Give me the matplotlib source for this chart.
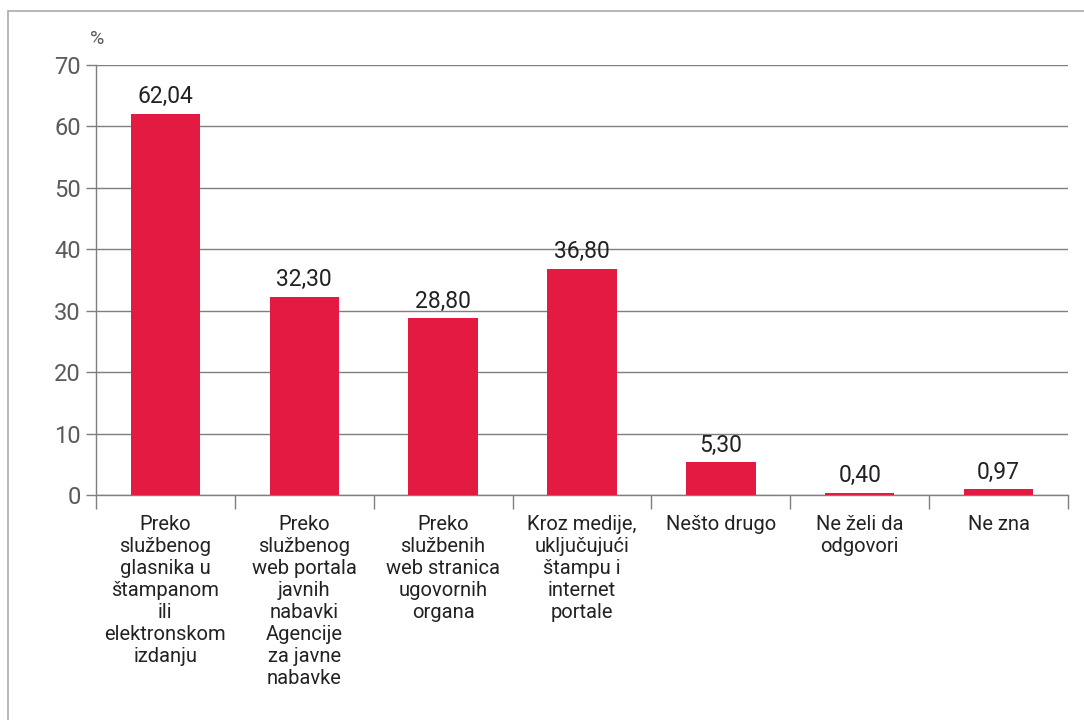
import matplotlib
matplotlib.use("Agg")
import matplotlib.pyplot as plt
from matplotlib.patches import Rectangle

categories = [
    "Preko\nslužbenog\nglasnika u\nštampanom\nili\nelektronskom\nizdanju",
    "Preko\nslužbenog\nweb portala\njavnih\nnabavki\nAgencije\nza javne\nnabavke",
    "Preko\nslužbenih\nweb stranica\nugovornih\norgana",
    "Kroz medije,\nuključujući\nštampu i\ninternet\nportale",
    "Nešto drugo",
    "Ne želi da\nodgovori",
    "Ne zna",
]
values = [62.04, 32.30, 28.80, 36.80, 5.30, 0.40, 0.97]
value_labels = ["62,04", "32,30", "28,80", "36,80", "5,30", "0,40", "0,97"]
yticks = [0, 10, 20, 30, 40, 50, 60, 70]

plt.rcParams['font.family'] = ['Roboto', 'DejaVu Sans']

W, H = 1084, 720
fig = plt.figure(figsize=(W/100, H/100), dpi=100)
ax = fig.add_axes([96/W, 1-495/H, (1068-96)/W, (495-65)/H])

bar_color = "#E31B43"
grid_color = "#7f7f7f"
x = list(range(len(values)))
ax.bar(x, values, width=0.5, color=bar_color, zorder=3)
ax.set_xlim(-0.5, len(values)-0.5)
ax.set_ylim(0, 70)
ax.set_yticks(yticks)
ax.set_yticklabels([str(t) for t in yticks], fontsize=17, color="#5a5a5a")
ax.yaxis.grid(True, color=grid_color, linewidth=1.0, zorder=0)
ax.set_axisbelow(True)
for s in ["top", "right"]:
    ax.spines[s].set_visible(False)
ax.spines["left"].set_color(grid_color)
ax.spines["bottom"].set_color(grid_color)
ax.spines["left"].set_linewidth(1.0)
ax.spines["bottom"].set_linewidth(1.0)
ax.tick_params(axis="y", length=7, color=grid_color, width=1.0, pad=4)

# x ticks at category boundaries
bounds = [i - 0.5 for i in range(len(values)+1)]
ax.set_xticks(bounds)
ax.set_xticklabels([""]*len(bounds))
ax.tick_params(axis="x", length=10, color=grid_color, width=1.0)
for i, c in enumerate(categories):
    ax.annotate(c, xy=(i, 0), xycoords="data", xytext=(0, -14.5), textcoords="offset points",
                ha="center", va="top", fontsize=14.5, color="#222222", linespacing=1.2)

for i, (v, lab) in enumerate(zip(values, value_labels)):
    ax.annotate(lab, xy=(i, v), xytext=(0, 4), textcoords="offset points",
                ha="center", va="bottom", fontsize=16.5, color="#222222")

fig.text(97/W, 1-39/H, "%", ha="center", va="center", fontsize=14, color="#5a5a5a")

# frame around figure
fig.patches.append(Rectangle((8/W, -0.1), 1.2, (1-11/H)+0.1, transform=fig.transFigure,
                             fill=False, edgecolor="#aaaaaa", linewidth=1.2))

fig.savefig("out.png", dpi=100)
